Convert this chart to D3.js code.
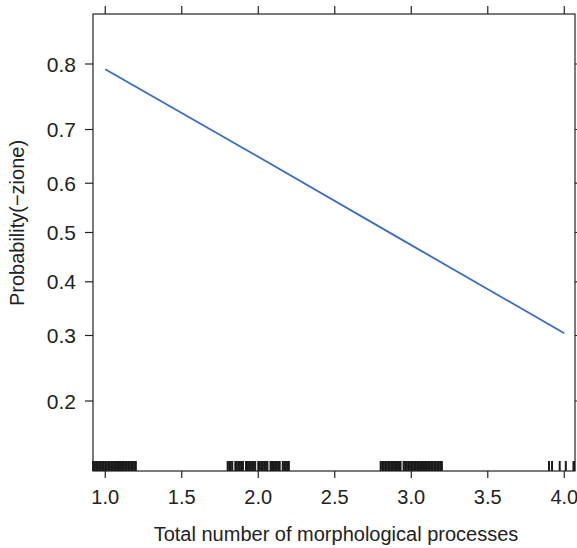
<!DOCTYPE html>
<html>
<head>
<meta charset="utf-8">
<script src="https://cdn.jsdelivr.net/npm/d3@7"></script>
<style>
  body { margin: 0; background: #fff; }
  text { font-family: "Liberation Sans", Arial, sans-serif; fill: #222; }
</style>
</head>
<body>
<div id="chart"></div>
<script>
// fitted effect line (probability at each x)
var lineX = [1, 2, 3, 4];
var lineP = [0.793, 0.651, 0.474, 0.304];

// rug of observed (jittered) x values
var rugX = [
  0.92, 0.93, 0.94, 0.95, 0.96, 0.97, 0.98, 0.99, 1.00, 1.01, 1.02, 1.03, 1.04, 1.05,
  1.06, 1.07, 1.08, 1.09, 1.10, 1.11, 1.12, 1.13, 1.14, 1.15, 1.16, 1.17, 1.18, 1.19, 1.20,
  1.80, 1.81, 1.82, 1.83, 1.85, 1.86, 1.87, 1.88, 1.89, 1.90, 1.92, 1.93, 1.94, 1.95, 1.96,
  1.97, 1.98, 2.00, 2.01, 2.02, 2.03, 2.04, 2.05, 2.06, 2.08, 2.09, 2.10, 2.11, 2.12, 2.13,
  2.14, 2.16, 2.17, 2.18, 2.19, 2.20,
  2.80, 2.81, 2.82, 2.83, 2.84, 2.85, 2.86, 2.87, 2.88, 2.89, 2.90, 2.91, 2.92, 2.93, 2.95,
  2.96, 2.97, 2.98, 2.99, 3.00, 3.01, 3.02, 3.03, 3.04, 3.05, 3.06, 3.07, 3.08, 3.09, 3.10,
  3.11, 3.12, 3.13, 3.14, 3.15, 3.16, 3.17, 3.18, 3.19, 3.20,
  3.90, 3.92, 3.97, 4.01, 4.06, 4.065
];

var xTicks = [1.0, 1.5, 2.0, 2.5, 3.0, 3.5, 4.0];
var yTicks = [0.2, 0.3, 0.4, 0.5, 0.6, 0.7, 0.8];

var xTitle = "Total number of morphological processes";
var yTitle = "Probability(\u2212zione)";

var width = 577, height = 548;
var pLeft = 93, pRight = 575, pTop = 14, pBottom = 471;

var logit = function(p) { return Math.log(p / (1 - p)); };

var x = d3.scaleLinear().domain([0.92, 4.07]).range([pLeft, pRight]);
// logit scale: 0.2 -> 401px, 0.8 -> 64px
var yl = d3.scaleLinear().domain([logit(0.2), logit(0.8)]).range([401, 64]);
var y = function(p) { return yl(logit(p)); };

var svg = d3.select("#chart")
  .append("svg")
    .attr("width", width)
    .attr("height", height);

// rug
svg.append("g")
  .selectAll("line")
  .data(rugX)
  .enter().append("line")
    .attr("x1", function(d) { return x(d); })
    .attr("x2", function(d) { return x(d); })
    .attr("y1", pBottom - 10)
    .attr("y2", pBottom)
    .attr("stroke", "#1a1a1a")
    .attr("stroke-width", 2);

// effect line
var line = d3.line()
    .x(function(d, i) { return x(lineX[i]); })
    .y(function(d) { return y(d); });

svg.append("path")
    .datum(lineP)
    .attr("d", line)
    .attr("fill", "none")
    .attr("stroke", "#3a6cc0")
    .attr("stroke-width", 1.8);

// frame
svg.append("rect")
    .attr("x", pLeft)
    .attr("y", pTop)
    .attr("width", pRight - pLeft)
    .attr("height", pBottom - pTop)
    .attr("fill", "none")
    .attr("stroke", "#222")
    .attr("stroke-width", 1.2);

var tickStyle = function(sel) {
  sel.attr("stroke", "#222").attr("stroke-width", 1.2);
};

// bottom + top ticks
xTicks.forEach(function(t) {
  svg.append("line").attr("x1", x(t)).attr("x2", x(t))
    .attr("y1", pBottom).attr("y2", pBottom + 7).call(tickStyle);
  svg.append("line").attr("x1", x(t)).attr("x2", x(t))
    .attr("y1", pTop).attr("y2", pTop - 8).call(tickStyle);
  svg.append("text")
    .attr("x", x(t))
    .attr("y", 504)
    .attr("text-anchor", "middle")
    .attr("font-size", 20)
    .text(t.toFixed(1));
});

// left + right ticks
yTicks.forEach(function(t) {
  svg.append("line").attr("x1", pLeft).attr("x2", pLeft - 8)
    .attr("y1", y(t)).attr("y2", y(t)).call(tickStyle);
  svg.append("line").attr("x1", pRight).attr("x2", pRight + 6)
    .attr("y1", y(t)).attr("y2", y(t)).call(tickStyle);
  svg.append("text")
    .attr("x", 76)
    .attr("y", y(t) + 7.5)
    .attr("text-anchor", "end")
    .attr("font-size", 21)
    .text(t.toFixed(1));
});

svg.append("text")
    .attr("x", 336)
    .attr("y", 541)
    .attr("text-anchor", "middle")
    .attr("font-size", 20)
    .text(xTitle);

svg.append("text")
    .attr("transform", "translate(24,223) rotate(-90)")
    .attr("text-anchor", "middle")
    .attr("font-size", 20)
    .text(yTitle);
</script>
</body>
</html>
